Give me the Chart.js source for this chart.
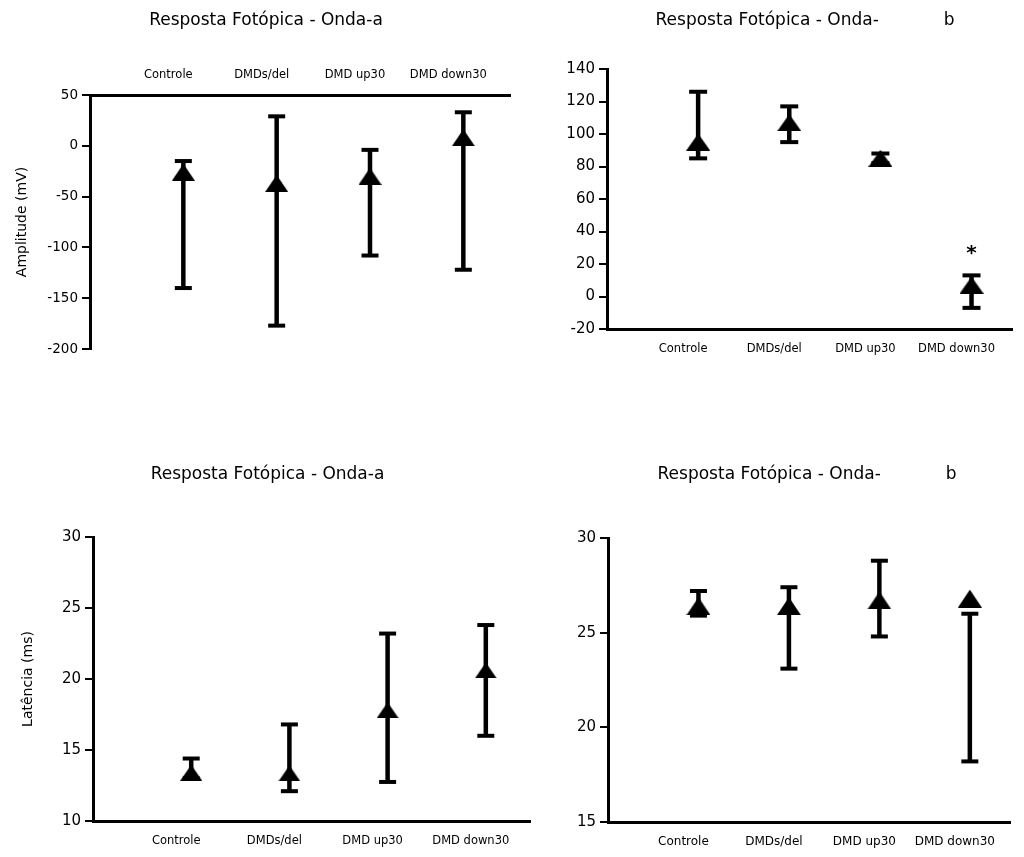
<!DOCTYPE html>
<html>
<head>
<meta charset="utf-8">
<title>Resposta Fotópica</title>
<script src="https://cdn.jsdelivr.net/npm/chart.js@4.4.1/dist/chart.umd.min.js"></script>
<style>
  body { margin: 0; background: #fff; }
  #wrap { position: relative; width: 1024px; height: 857px; overflow: hidden; }
  canvas { position: absolute; }
</style>
</head>
<body>
<div id="wrap">
  <canvas id="ampA" width="520" height="370" style="left:0;top:0"></canvas>
  <canvas id="ampB" width="504" height="370" style="left:520px;top:0"></canvas>
  <canvas id="latB" width="504" height="407" style="left:520px;top:450px"></canvas>
  <canvas id="latA" width="540" height="407" style="left:0;top:450px"></canvas>
</div>
<script>
const categories = ["Controle", "DMDs/del", "DMD up30", "DMD down30"]

// amplitude, onda-a (mV)
const ampAMean = [-26, -37, -30, 8]
const ampAUpper = [-15, 29, -4, 33]
const ampALower = [-140, -177, -108, -122]

// amplitude, onda-b (mV)
const ampBMean = [95, 107, 85, 7]
const ampBUpper = [126, 117, 88, 13]
const ampBLower = [85, 95, 82, -7]
const ampBMarks = ["", "", "", "*"]

// latência, onda-a (ms)
const latAMean = [13.4, 13.35, 17.8, 20.6]
const latAUpper = [14.4, 16.8, 23.2, 23.8]
const latALower = [13.0, 12.1, 12.75, 16.0]

// latência, onda-b (ms)
const latBMean = [26.4, 26.4, 26.7, 26.8]
const latBUpper = [27.2, 27.4, 28.8, 26.0]
const latBLower = [25.9, 23.1, 24.8, 18.2]

const FONT = "'DejaVu Sans', sans-serif"
const GAP = "            "

const triangle = (w, h) => {
  const c = document.createElement("canvas")
  c.width = w
  c.height = h
  const g = c.getContext("2d")
  g.fillStyle = "#000"
  g.beginPath()
  g.moveTo(w / 2, 0)
  g.lineTo(w, h)
  g.lineTo(0, h)
  g.closePath()
  g.fill()
  return c
}

// panel heading, placed freely (the built-in title is always centred on the canvas)
const heading = {
  id: "heading",
  afterDraw(chart, _args, opts) {
    const {ctx} = chart
    ctx.save()
    ctx.fillStyle = "#000"
    ctx.font = `17px ${FONT}`
    ctx.textAlign = "center"
    ctx.textBaseline = "middle"
    ctx.fillText(opts.text, opts.x, opts.y)
    ctx.restore()
  }
}

// vertical error bars with caps, plus significance marks above them
const errorBars = {
  id: "errorBars",
  beforeDatasetsDraw(chart, _args, opts) {
    const {ctx, scales: {x, y}} = chart
    const ds = chart.data.datasets[0]
    ctx.save()
    ctx.strokeStyle = "#000"
    ds.data.forEach((p, i) => {
      const px = x.getPixelForValue(p.x)
      const top = y.getPixelForValue(ds.upper[i])
      const bottom = y.getPixelForValue(ds.lower[i])
      ctx.lineWidth = opts.width
      ctx.beginPath()
      ctx.moveTo(px, top)
      ctx.lineTo(px, bottom)
      ctx.stroke()
      ctx.lineWidth = opts.capThickness
      for (const cy of [top, bottom]) {
        ctx.beginPath()
        ctx.moveTo(px - opts.capWidth / 2, cy)
        ctx.lineTo(px + opts.capWidth / 2, cy)
        ctx.stroke()
      }
    })
    ctx.restore()
  },
  afterDatasetsDraw(chart, _args, opts) {
    const {ctx, scales: {x, y}} = chart
    const ds = chart.data.datasets[0]
    if (!ds.marks) return
    ctx.save()
    ctx.fillStyle = "#000"
    ctx.font = `bold 20px ${FONT}`
    ctx.textAlign = "center"
    ctx.textBaseline = "middle"
    ds.data.forEach((p, i) => {
      if (!ds.marks[i]) return
      ctx.fillText(ds.marks[i], x.getPixelForValue(p.x), y.getPixelForValue(ds.upper[i]) - opts.markOffset)
    })
    ctx.restore()
  }
}

const panel = (id, o) => new Chart(document.getElementById(id), {
  type: "scatter",
  data: {
    datasets: [{
      data: o.mean.map((v, i) => ({x: i + 1, y: v})),
      upper: o.upper,
      lower: o.lower,
      marks: o.marks,
      pointStyle: triangle(o.tri[0], o.tri[1]),
      pointRadius: 9,
      pointHoverRadius: 9
    }]
  },
  options: {
    responsive: false,
    animation: false,
    devicePixelRatio: 1,
    layout: {padding: o.padding},
    plugins: {
      legend: {display: false},
      tooltip: {enabled: false},
      heading: {text: o.title, x: o.titleAt[0], y: o.titleAt[1]},
      errorBars: {width: 4.5, capThickness: 4, capWidth: o.capWidth || 17, markOffset: 22}
    },
    scales: {
      x: {
        type: "linear",
        position: o.xPos || "bottom",
        min: 0,
        max: o.xMax,
        grid: {display: false, drawTicks: false},
        border: {color: "#000", width: 3},
        afterBuildTicks: (s) => { s.ticks = categories.map((_, i) => ({value: i + 1})) },
        afterFit: (s) => { s.height = o.xHeight },
        ticks: {
          color: "#000",
          font: {family: FONT, size: o.catSize || 11.5},
          padding: 13,
          labelOffset: -15,
          maxRotation: 0,
          autoSkip: false,
          callback: (v) => categories[v - 1] || ""
        }
      },
      y: {
        min: o.yMin,
        max: o.yMax,
        afterFit: (s) => { s.width = o.yWidth },
        ticks: {stepSize: o.yStep, color: "#000", font: {family: FONT, size: o.tickSize}, padding: 4},
        grid: {drawOnChartArea: false, tickLength: 8, lineWidth: 2, color: "#000"},
        border: {color: "#000", width: 3},
        title: o.yTitle
          ? {display: true, text: o.yTitle, color: "#000", font: {family: FONT, size: 14}, padding: {top: o.yTitlePad, bottom: 0}}
          : {display: false}
      }
    }
  },
  plugins: [errorBars, heading]
})

panel("ampA", {
  title: "Resposta Fotópica - Onda-a", titleAt: [266, 21],
  mean: ampAMean, upper: ampAUpper, lower: ampALower,
  tri: [23, 17],
  padding: {left: 0, right: 5, top: 55, bottom: 21},
  xPos: "top", xHeight: 40, xMax: 4.5,
  yMin: -200, yMax: 50, yStep: 50, yWidth: 90, tickSize: 13.5,
  yTitle: "Amplitude (mV)", yTitlePad: 13.6
})

panel("ampB", {
  title: "Resposta Fotópica - Onda-" + GAP + "b", titleAt: [285, 21],
  mean: ampBMean, upper: ampBUpper, lower: ampBLower, marks: ampBMarks,
  tri: [24, 17], capWidth: 18,
  padding: {left: 0, right: 0, top: 69, bottom: 0},
  xHeight: 41, xMax: 4.45,
  yMin: -20, yMax: 140, yStep: 20, yWidth: 87, tickSize: 15
})

panel("latA", {
  title: "Resposta Fotópica - Onda-a", titleAt: [267.5, 25],
  mean: latAMean, upper: latAUpper, lower: latALower,
  tri: [22, 16],
  padding: {left: 0, right: 7, top: 87, bottom: 0},
  xHeight: 36, xMax: 4.45,
  yMin: 10, yMax: 30, yStep: 5, yWidth: 93, tickSize: 15,
  yTitle: "Latência (ms)", yTitlePad: 19.6
})

panel("latB", {
  title: "Resposta Fotópica - Onda-" + GAP + "b", titleAt: [287, 25],
  mean: latBMean, upper: latBUpper, lower: latBLower,
  tri: [24, 18],
  padding: {left: 0, right: 0, top: 88, bottom: 0},
  xHeight: 35, xMax: 4.45, catSize: 12,
  yMin: 15, yMax: 30, yStep: 5, yWidth: 88, tickSize: 15
})
</script>
</body>
</html>
